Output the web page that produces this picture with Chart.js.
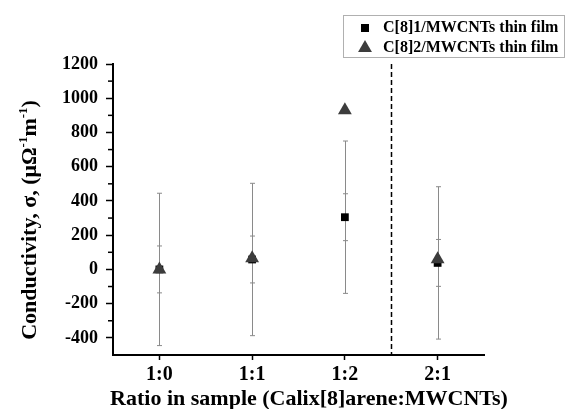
<!DOCTYPE html>
<html>
<head>
<meta charset="utf-8">
<script src="https://cdn.jsdelivr.net/npm/chart.js@4/dist/chart.umd.min.js"></script>
<style>
html,body{margin:0;padding:0;background:#fff;}
#wrap{width:566px;height:409px;position:relative;}
</style>
</head>
<body>
<div id="wrap"><canvas id="c" width="566" height="409"></canvas></div>
<script>
const categories = ['1:0', '1:1', '1:2', '2:1'];
const seriesNames = ['C[8]1/MWCNTs thin film', 'C[8]2/MWCNTs thin film'];
const squareValues = [0, 58, 305, 38];
const triangleValues = [0, 65, 930, 60];
const errorSmall = [137, 137, 137, 137];
const errorLarge = [445, 445, 445, 445];
const yTickValues = [-400, -200, 0, 200, 400, 600, 800, 1000, 1200];
const yMinorTicks = [-300, -100, 100, 300, 500, 700, 900, 1100];
const dividerX = 3.5;
const xTitle = 'Ratio in sample (Calix[8]arene:MWCNTs)';
const yTitleParts = [['Conductivity, σ, (μΩ', false], ['-1', true], ['m', false], ['-1', true], [')', false]];

const serif = "'Liberation Serif', 'Times New Roman', serif";

const pts = vals => vals.map((v, i) => ({x: i + 1, y: v}));

const extras = {
  id: 'extras',
  beforeDatasetsDraw(chart) {
    const {ctx, chartArea} = chart;
    const xs = chart.scales.x, ys = chart.scales.y;
    ctx.save();
    ctx.strokeStyle = '#000';
    ctx.lineWidth = 1.5;
    ctx.setLineDash([5, 3]);
    const dx = Math.round(xs.getPixelForValue(dividerX)) + 0.5;
    ctx.beginPath();
    ctx.moveTo(dx, chartArea.top);
    ctx.lineTo(dx, chartArea.bottom);
    ctx.stroke();
    ctx.setLineDash([]);
    ctx.strokeStyle = '#8a8a8a';
    ctx.lineWidth = 1;
    const cap = 2.5;
    squareValues.forEach((v, i) => {
      const px = Math.round(xs.getPixelForValue(i + 1)) + 0.5;
      [errorLarge[i], errorSmall[i]].forEach(e => {
        const t = ys.getPixelForValue(v + e), b = ys.getPixelForValue(v - e);
        ctx.beginPath();
        ctx.moveTo(px, t); ctx.lineTo(px, b);
        ctx.moveTo(px - cap, t); ctx.lineTo(px + cap, t);
        ctx.moveTo(px - cap, b); ctx.lineTo(px + cap, b);
        ctx.stroke();
      });
    });
    ctx.restore();
  },
  afterDraw(chart) {
    const {ctx, chartArea} = chart;
    const ys = chart.scales.y;
    ctx.save();
    ctx.strokeStyle = '#000';
    ctx.lineWidth = 1.5;
    yMinorTicks.forEach(v => {
      const py = ys.getPixelForValue(v);
      ctx.beginPath();
      ctx.moveTo(chartArea.left - 1, py);
      ctx.lineTo(chartArea.left - 5, py);
      ctx.stroke();
    });
    // x title
    ctx.fillStyle = '#000';
    ctx.font = 'bold 22px ' + serif;
    ctx.textAlign = 'center';
    ctx.textBaseline = 'middle';
    ctx.fillText(xTitle, 309, 399);
    // y title with superscripts
    const mainFont = 'bold 22px ' + serif, supFont = 'bold 13px ' + serif;
    let total = 0;
    yTitleParts.forEach(([t, sup]) => { ctx.font = sup ? supFont : mainFont; total += ctx.measureText(t).width; });
    ctx.translate(36, 220);
    ctx.rotate(-Math.PI / 2);
    ctx.textBaseline = 'alphabetic';
    ctx.textAlign = 'left';
    let x = -total / 2;
    yTitleParts.forEach(([t, sup]) => {
      ctx.font = sup ? supFont : mainFont;
      ctx.fillText(t, x, sup ? -9 : 0);
      x += ctx.measureText(t).width;
    });
    ctx.setTransform(1, 0, 0, 1, 0, 0);
    // legend
    ctx.strokeStyle = '#b0b0b0';
    ctx.lineWidth = 1;
    ctx.strokeRect(343.5, 15.5, 221, 42);
    ctx.fillStyle = '#000';
    ctx.fillRect(361, 24, 8, 8);
    ctx.fillStyle = '#3c3c3c';
    const r = 8, cx = 365, cy = 48;
    ctx.beginPath();
    ctx.moveTo(cx, cy - r);
    ctx.lineTo(cx + r * 0.866, cy + r * 0.5);
    ctx.lineTo(cx - r * 0.866, cy + r * 0.5);
    ctx.closePath();
    ctx.fill();
    ctx.fillStyle = '#000';
    ctx.font = 'bold 16px ' + serif;
    ctx.textBaseline = 'middle';
    ctx.textAlign = 'left';
    ctx.fillText(seriesNames[0], 383, 28);
    ctx.fillText(seriesNames[1], 383, 48);
    ctx.restore();
  }
};

new Chart(document.getElementById('c'), {
  type: 'scatter',
  data: {
    datasets: [
      {
        label: seriesNames[1],
        data: pts(triangleValues),
        pointStyle: 'triangle',
        pointRadius: 8,
        pointHoverRadius: 8,
        backgroundColor: '#3c3c3c',
        borderColor: '#3c3c3c',
        borderWidth: 0,
        showLine: false
      },
      {
        label: seriesNames[0],
        data: pts(squareValues),
        pointStyle: 'rect',
        pointRadius: 5.5,
        pointHoverRadius: 5.5,
        backgroundColor: '#000',
        borderColor: '#000',
        borderWidth: 0,
        showLine: false
      }
    ]
  },
  options: {
    responsive: true,
    maintainAspectRatio: false,
    animation: false,
    events: [],
    layout: {padding: {left: 0, right: 82, top: 64, bottom: 0}},
    plugins: {legend: {display: false}, tooltip: {enabled: false}},
    scales: {
      x: {
        type: 'linear',
        min: 0.5,
        max: 4.5,
        afterBuildTicks: s => { s.ticks = categories.map((c, i) => ({value: i + 1})); },
        afterFit: s => { s.height = 54; },
        border: {display: true, color: '#000', width: 2},
        grid: {drawOnChartArea: false, drawTicks: true, tickLength: 5, tickColor: '#000', tickWidth: 1.5},
        ticks: {
          color: '#000',
          font: {family: serif, size: 20, weight: 'bold'},
          padding: 3,
          maxRotation: 0,
          autoSkip: false,
          callback: v => categories[Math.round(v) - 1] || ''
        },
        title: {display: false}
      },
      y: {
        type: 'linear',
        min: -500,
        max: 1200,
        afterBuildTicks: s => { s.ticks = yTickValues.map(v => ({value: v})); },
        afterFit: s => { s.width = 113; },
        border: {display: true, color: '#000', width: 2},
        grid: {drawOnChartArea: false, drawTicks: true, tickLength: 7, tickColor: '#000', tickWidth: 1.5},
        ticks: {
          color: '#000',
          font: {family: serif, size: 18, weight: 'bold'},
          padding: 8,
          autoSkip: false,
          callback: v => String(v)
        },
        title: {display: false}
      }
    }
  },
  plugins: [extras]
});
</script>
</body>
</html>
